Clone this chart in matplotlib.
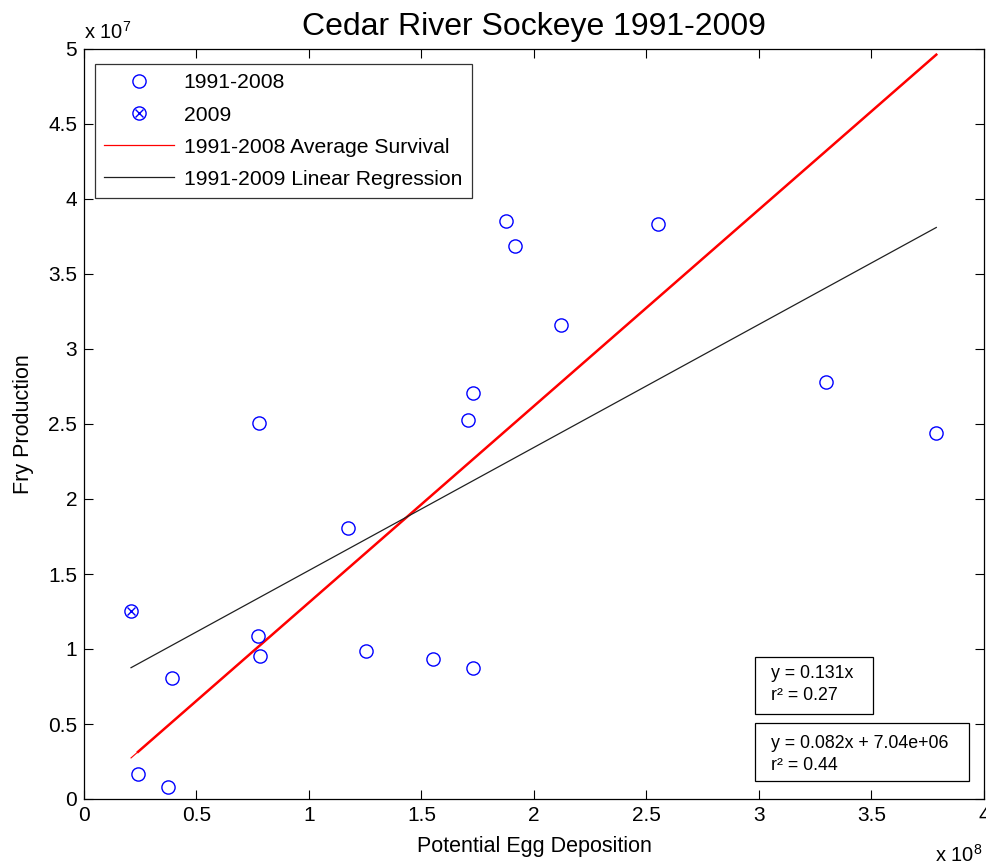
import matplotlib
matplotlib.use("Agg")
import matplotlib.pyplot as plt
from matplotlib.lines import Line2D
from matplotlib.legend_handler import HandlerTuple
from matplotlib.patches import Rectangle
from matplotlib.ticker import FuncFormatter, MultipleLocator
import numpy as np

plt.rcParams['font.family'] = ['Liberation Sans', 'DejaVu Sans']
plt.rcParams['mathtext.fontset'] = 'custom'
plt.rcParams['mathtext.rm'] = 'Liberation Sans'
plt.rcParams['mathtext.it'] = 'Liberation Sans'

# Potential egg deposition (x1e8) and fry production (x1e7), 1991-2008
eggs_9108 = [0.24, 0.372, 0.39, 0.775, 0.782, 0.778, 1.173, 1.255, 1.553, 1.730,
             1.729, 1.708, 1.877, 1.914, 2.121, 2.551, 3.299, 3.788]
fry_9108 = [0.167, 0.078, 0.809, 1.085, 0.953, 2.507, 1.807, 0.987, 0.931, 0.875,
            2.704, 2.527, 3.855, 3.689, 3.160, 3.835, 2.782, 2.438]
# 2009
eggs_2009 = [0.209]
fry_2009 = [1.253]

# Fits
surv_slope = 0.131
surv_r2 = 0.27
reg_slope = 0.082
reg_icpt = 7.04e6
reg_r2 = 0.44

ex = np.array(eggs_9108) * 1e8
fy = np.array(fry_9108) * 1e7
e9 = np.array(eggs_2009) * 1e8
f9 = np.array(fry_2009) * 1e7

fig = plt.figure(figsize=(9.87, 8.67), dpi=100)
ax = fig.add_axes([84/987, 1-799/867, 900/987, 750/867])

blue = '#0000ff'
all_x = np.concatenate([e9, ex])
x_full = np.array([all_x.min(), all_x.max()])
x_part = np.array([ex.min(), ex.max()])

# average survival line (thin over full range, thicker over 1991-2008 range)
ax.plot(x_full, surv_slope * x_full, color='red', lw=0.8, zorder=2)
ax.plot(x_part, surv_slope * x_part, color='red', lw=1.8, zorder=2)
# regression line
ax.plot(x_full, reg_slope * x_full + reg_icpt, color='#202020', lw=0.9, zorder=2)

ax.plot(ex, fy, 'o', mfc='none', mec=blue, ms=9.5, mew=1.0, zorder=3)
ax.plot(e9, f9, 'o', mfc='none', mec=blue, ms=9.5, mew=1.0, zorder=3)
ax.plot(e9, f9, 'x', color=blue, ms=6, mew=1.0, zorder=3)

ax.set_xlim(0, 4e8)
ax.set_ylim(0, 5e7)
ax.xaxis.set_major_locator(MultipleLocator(0.5e8))
ax.yaxis.set_major_locator(MultipleLocator(0.5e7))
ax.xaxis.set_major_formatter(FuncFormatter(lambda v, p: f"{v/1e8:g}"))
ax.yaxis.set_major_formatter(FuncFormatter(lambda v, p: f"{v/1e7:g}"))
ax.tick_params(direction='in', length=6.5, width=0.8, top=True, right=True,
               labelsize=15, pad=5)
for s in ax.spines.values():
    s.set_linewidth(0.9)

ax.set_title('Cedar River Sockeye 1991-2009', fontsize=23, pad=10)
ax.set_xlabel('Potential Egg Deposition', fontsize=15.5, labelpad=8)
ax.set_ylabel('Fry Production', fontsize=15.5, labelpad=10)

ax.text(0, 1.008, r'x 10$^{7}$', transform=ax.transAxes, ha='left', va='bottom', fontsize=14.5)
fig.text(935/987, 1-866/867, r'x 10$^{8}$', ha='left', va='bottom', fontsize=14.5)

h_open = Line2D([], [], ls='none', marker='o', mfc='none', mec=blue, ms=9.5, mew=1.0)
h_o = Line2D([], [], ls='none', marker='o', mfc='none', mec=blue, ms=9.5, mew=1.0)
h_x = Line2D([], [], ls='none', marker='x', color=blue, ms=6, mew=1.0)
h_red = Line2D([], [], color='red', lw=0.9)
h_blk = Line2D([], [], color='#202020', lw=0.9)
leg = ax.legend([h_open, (h_o, h_x), h_red, h_blk],
                ['1991-2008', '2009', '1991-2008 Average Survival', '1991-2009 Linear Regression'],
                handler_map={tuple: HandlerTuple(ndivide=1, pad=0)},
                loc='upper left', bbox_to_anchor=(11/900, 1-15/750), borderaxespad=0,
                fontsize=15.2, frameon=True, fancybox=False, edgecolor='black',
                handlelength=3.3, handletextpad=0.45, labelspacing=0.62, borderpad=0.45,
                numpoints=1)
leg.get_frame().set_linewidth(0.9)

# statistics boxes
def stat_box(x0, y0, x1, y1, lines, ys):
    fig.add_artist(Rectangle((x0/987, 1-y1/867), (x1-x0)/987, (y1-y0)/867,
                             transform=fig.transFigure, fill=False, ec='black', lw=0.9))
    for t, yy in zip(lines, ys):
        fig.text((x0+16)/987, 1-yy/867, t, ha='left', va='center', fontsize=12.8)

stat_box(755, 657, 873, 714, [f'y = {surv_slope:.3f}x', f'r² = {surv_r2:.2f}'], [674, 696])
stat_box(755, 723, 969, 781,
         [f'y = {reg_slope:.3f}x + {reg_icpt:.2e}', f'r² = {reg_r2:.2f}'], [744, 765])

fig.savefig('out.png', dpi=100)
